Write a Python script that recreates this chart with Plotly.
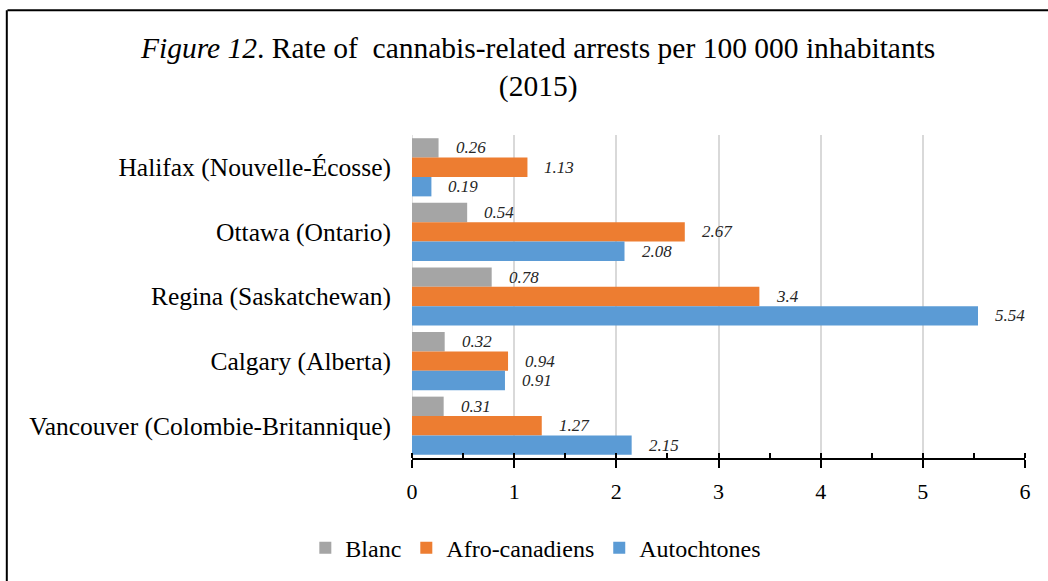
import plotly.graph_objects as go

# Arrest rates per 100 000 inhabitants, 2015
cities = [
    "Halifax (Nouvelle-Écosse)",
    "Ottawa (Ontario)",
    "Regina (Saskatchewan)",
    "Calgary (Alberta)",
    "Vancouver (Colombie-Britannique)",
]
blanc = [0.26, 0.54, 0.78, 0.32, 0.31]
afro_canadiens = [1.13, 2.67, 3.4, 0.94, 1.27]
autochtones = [0.19, 2.08, 5.54, 0.91, 2.15]

series = [
    ("Blanc", blanc, "#A5A5A5"),
    ("Afro-canadiens", afro_canadiens, "#ED7D31"),
    ("Autochtones", autochtones, "#5B9BD5"),
]
x_ticks = [0, 1, 2, 3, 4, 5, 6]

FONT = "Liberation Serif, Times New Roman, serif"

fig = go.Figure()
for name, values, color in series:
    fig.add_trace(go.Bar(
        name=name, y=cities, x=values, orientation="h",
        marker=dict(color=color, line=dict(width=0)),
    ))

# Value labels just past each bar end, one row per series within a group
plot_h = 581 - 135 - 122
bargap = 0.1
bar_px = plot_h / len(cities) * (1 - bargap) / len(series)
for i, (name, values, color) in enumerate(series):
    shift = (1 - i) * bar_px
    for city, v in zip(cities, values):
        fig.add_annotation(
            x=v, y=city, xref="x", yref="y", text=f"{v:g}",
            showarrow=False, xanchor="left", yanchor="middle",
            xshift=15, yshift=shift,
            font=dict(family=FONT, size=17, color="#262626", style="italic"),
        )

# Chart title
fig.add_annotation(
    x=0.204, y=1.21, xref="paper", yref="paper",
    text="<i>Figure 12</i>. Rate of  cannabis-related arrests per 100 000 inhabitants<br>(2015)",
    showarrow=False, xanchor="center", yanchor="middle",
    font=dict(family=FONT, size=29.5, color="#000000"),
)

# Frame around the chart
fig.add_shape(type="line", xref="paper", yref="paper",
              x0=-0.66, x1=1.1, y0=1.386, y1=1.386,
              line=dict(color="#000000", width=2))
fig.add_shape(type="line", xref="paper", yref="paper",
              x0=-0.661, x1=-0.661, y0=1.386, y1=-0.5,
              line=dict(color="#000000", width=2))

fig.update_layout(
    width=1048, height=581,
    margin=dict(l=412, r=23, t=135, b=122),
    paper_bgcolor="white", plot_bgcolor="white",
    barmode="group", bargap=bargap, bargroupgap=0,
    font=dict(family=FONT, size=20, color="#000000"),
    showlegend=True,
    legend=dict(
        orientation="h", x=0.202, xanchor="center", y=-0.275, yanchor="middle",
        font=dict(family=FONT, size=24, color="#000000"),
        traceorder="normal", itemwidth=30,
    ),
    xaxis=dict(
        range=[0, 6], tickvals=x_ticks, ticktext=[str(t) for t in x_ticks],
        showgrid=True, gridcolor="#D9D9D9", gridwidth=1.5,
        zeroline=False,
        showline=True, linecolor="#000000", linewidth=2,
        ticks="outside", ticklen=8, tickwidth=2, tickcolor="#000000",
        minor=dict(dtick=0.5, ticks="inside", ticklen=5, tickwidth=2,
                   tickcolor="#000000", showgrid=False),
        tickfont=dict(family=FONT, size=22, color="#000000"),
        ticklabelstandoff=5,
    ),
    yaxis=dict(
        autorange="reversed", showgrid=False, zeroline=False,
        showline=False, ticks="",
        tickfont=dict(family=FONT, size=25.5, color="#000000"),
        ticklabelstandoff=20,
    ),
)
# Light vertical baseline at zero
fig.add_shape(type="line", xref="x", yref="paper", x0=0, x1=0, y0=0, y1=1,
              line=dict(color="#D9D9D9", width=1.5), layer="below")

fig.write_html("out.html")
